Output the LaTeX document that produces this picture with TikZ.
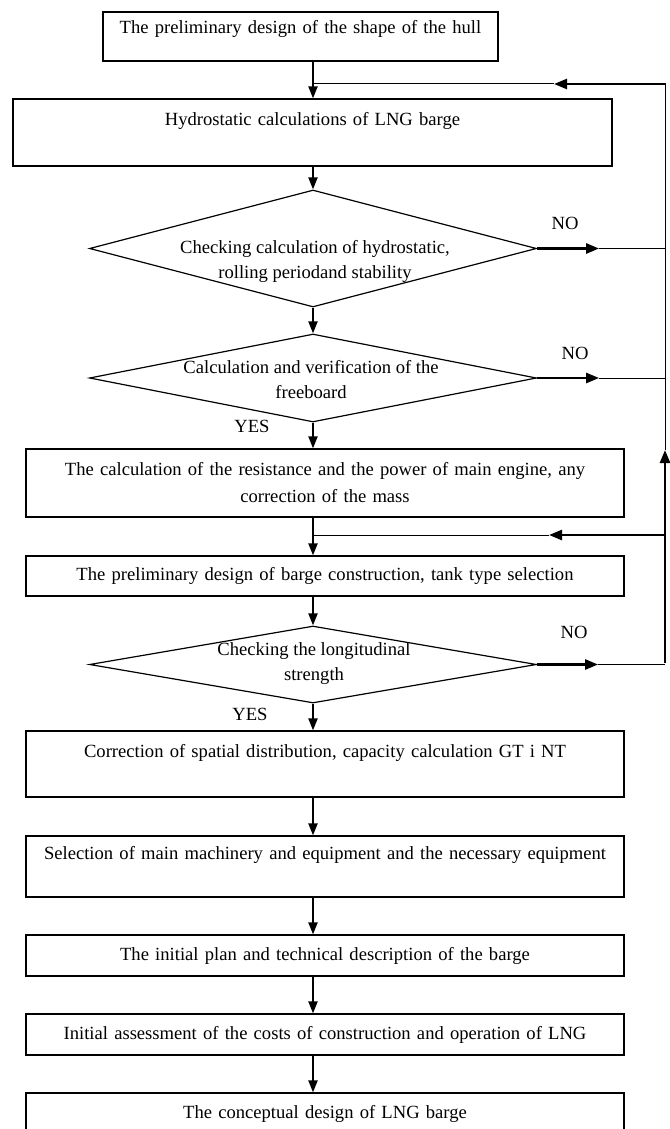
\documentclass[tikz,border=0pt]{standalone}
\usepackage{fontspec}
\setmainfont{Liberation Serif}
\usetikzlibrary{arrows.meta,shapes.geometric}
\begin{document}
\begin{tikzpicture}[x=1pt,y=-1pt,
  box/.style={draw, line width=1.2pt, rectangle, inner sep=0pt, align=center, font=\fontsize{18.6}{27}\selectfont},
  dia/.style={draw, line width=1.2pt, diamond, inner sep=0pt},
  dtext/.style={align=center, inner sep=0pt, font=\fontsize{18.6}{25}\selectfont},
  lbl/.style={inner sep=0pt, font=\fontsize{18.6}{27}\selectfont},
  flow/.style={line width=2pt, -{Triangle[length=12pt,width=9pt]}},
  thinline/.style={line width=1pt},
  fbarrow/.style={line width=2.5pt, -{Triangle[length=13pt,width=10pt]}},
]
\useasboundingbox (0,0) rectangle (669,1129);
\coordinate (ax) at (313,0);
\coordinate (rt) at (665,84);

% boxes
\node[box, text width=395pt, minimum height=49pt, font=\fontsize{18.6}{19}\selectfont] (b1) at (300.5,36.5) {The preliminary design of the shape of the hull\\\mbox{}};
\node[box, text width=599pt, minimum height=67pt] (b2) at (312.5,132.5) {Hydrostatic calculations of LNG barge\\\mbox{}};
\node[box, text width=598pt, minimum height=68pt] (b3) at (325,483) {The calculation of the resistance and the power of main engine, any\\correction of the mass};
\node[box, text width=598pt, minimum height=40pt] (b4) at (325,576) {The preliminary design of barge construction, tank type selection};
\node[box, text width=598pt, minimum height=66pt] (b5) at (325,764) {Correction of spatial distribution, capacity calculation GT i NT\\\mbox{}};
\node[box, text width=598pt, minimum height=61pt] (b6) at (325,866.5) {Selection of main machinery and equipment and the necessary equipment\\\mbox{}};
\node[box, text width=598pt, minimum height=41pt] (b7) at (325,955.5) {The initial plan and technical description of the barge};
\node[box, text width=598pt, minimum height=41pt] (b8) at (325,1034.5) {Initial assessment of the costs of construction and operation of LNG};
\node[box, text width=598pt, minimum height=42pt] (b9) at (325,1114) {The conceptual design of LNG barge};

% diamonds
\node[dia, minimum width=447pt, minimum height=117pt] (d1) at (313,248.5) {};
\node[dia, minimum width=447pt, minimum height=88pt] (d2) at (313,378) {};
\node[dia, minimum width=447pt, minimum height=77pt] (d3) at (313,664.5) {};
\node[dtext] (d1t) at (315,261.5) {Checking calculation of hydrostatic,\\rolling periodand stability};
\node[dtext] (d2t) at (311,379.5) {Calculation and verification of the\\freeboard};
\node[dtext] (d3t) at (314,664) {Checking the longitudinal\\strength};

% labels
\node[lbl] (no1) at (565,223) {NO};
\node[lbl] (no2) at (575,353) {NO};
\node[lbl] (no3) at (574,632) {NO};
\node[lbl] (yes1) at (252,426) {YES};
\node[lbl] (yes2) at (250,714) {YES};

% main flow
\draw[flow] (b1.south -| ax) -- (b2.north -| ax);
\draw[flow] (b2.south -| ax) -- (d1.north);
\draw[flow] (d1.south) -- (d2.north);
\draw[flow] (d2.south) -- (b3.north -| ax);
\draw[flow] (b3.south -| ax) -- (b4.north -| ax);
\draw[flow] (b4.south -| ax) -- (d3.north);
\draw[flow] (d3.south) -- (b5.north -| ax);
\draw[flow] (b5.south -| ax) -- (b6.north -| ax);
\draw[flow] (b6.south -| ax) -- (b7.north -| ax);
\draw[flow] (b7.south -| ax) -- (b8.north -| ax);
\draw[flow] (b8.south -| ax) -- (b9.north -| ax);

% NO branches
\draw[fbarrow] (d1.east) -- ++(62,0) coordinate (n1);
\draw[thinline] (n1) -- (n1 -| rt);
\draw[fbarrow] (d2.east) -- ++(62,0) coordinate (n2);
\draw[thinline] (n2) -- (n2 -| rt);
\draw[fbarrow] (d3.east) -- ++(61,0) coordinate (n3);
\draw[thinline] (n3) -- (n3 -| rt);

% return line
\coordinate (up) at (665,450);
\draw[fbarrow] ([yshift=1.25pt]n3 -| rt) -- (up);
\draw[thinline] (up) -- (rt);
\coordinate (j1) at (313,84);
\coordinate (a1) at (554,84);
\draw[fbarrow] ([xshift=0.5pt]rt) -- (a1);
\draw[thinline] (a1) -- (j1);
\coordinate (j2) at (313,535);
\coordinate (r2) at (665,535);
\coordinate (a2) at (549,535);
\draw[fbarrow] (r2) -- (a2);
\draw[thinline] (a2) -- (j2);
\end{tikzpicture}
\end{document}
